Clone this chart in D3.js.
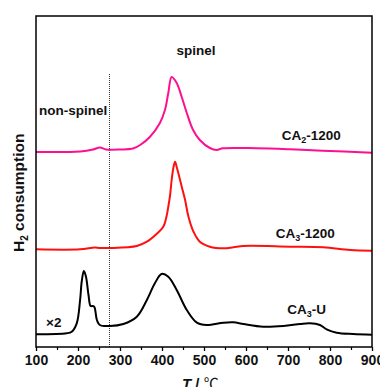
<!DOCTYPE html>
<html>
<head>
<meta charset="utf-8">
<script src="https://cdn.jsdelivr.net/npm/d3@7"></script>
<style>
  body { margin: 0; background: #fff; }
  text { font-family: "Liberation Sans", Arial, sans-serif; font-weight: bold; fill: #111; }
</style>
</head>
<body>
<svg id="chart" width="380" height="387"></svg>
<script>
// temperature (C) and H2 signal (a.u.)
var ca2T = [100, 205, 236, 252, 267, 300, 331, 348, 371, 395, 407, 415, 423, 435, 447, 459, 474, 490, 514, 530, 545, 625, 705, 783, 900]
var ca2V = [195, 195.5, 197.5, 199.5, 197.5, 197.5, 198.5, 202, 210, 224, 237, 254, 270, 264, 250, 234, 217, 207, 199, 197, 198.7, 198.7, 197.7, 196.3, 194.3]

var ca3T = [100, 205, 240, 252, 276, 340, 364, 387, 403, 411, 415, 419, 423, 427, 431, 435, 439, 447, 455, 463, 475, 490, 514, 546, 570, 594, 705, 784, 848, 900]
var ca3V = [97.7, 97.7, 99.5, 99, 99, 101, 105.3, 113, 120.3, 131, 140.3, 151, 167, 179, 185.3, 180, 173.7, 160.3, 147, 130.3, 115.3, 105.3, 100.3, 98.7, 99.7, 101, 100.3, 99.7, 97, 96.3]

var ca3uT = [100, 173, 185, 197, 205, 209, 214, 219, 225, 230, 235, 239, 245, 252, 276, 308, 340, 364, 383, 399, 415, 435, 459, 483, 506, 546, 570, 594, 641, 689, 729, 752, 776, 792, 816, 855, 900]
var ca3uV = [12.7, 13.7, 15.3, 23.7, 47, 66, 76, 70.3, 52, 41, 41, 40, 27, 22, 21, 23, 30.3, 47, 63.7, 73, 70.3, 57, 37, 24.3, 22, 24.3, 24.7, 23, 20.3, 21, 23, 23.7, 22, 17.7, 14.3, 13, 12.3]

var xTicks = [100, 200, 300, 400, 500, 600, 700, 800, 900]
var dividerT = 275

var svg = d3.select('#chart')
var plotL = 36, plotR = 372, plotT = 16, plotB = 347

var x = d3.scaleLinear().domain([100, 900]).range([plotL, plotR])
var y = d3.scaleLinear().domain([0, 331]).range([plotB, plotT])

// dotted split between non-spinel and spinel
svg.append('line')
  .attr('x1', x(dividerT)).attr('x2', x(dividerT))
  .attr('y1', y(0)).attr('y2', y(274))
  .attr('stroke', '#333').attr('stroke-width', 1)
  .attr('stroke-dasharray', '1,1')

var line = d3.line()
  .x(function (d) { return x(d[0]) })
  .y(function (d) { return y(d[1]) })
  .curve(d3.curveCatmullRom.alpha(0.5))

function addCurve(ts, vs, color) {
  svg.append('path')
    .datum(d3.zip(ts, vs))
    .attr('d', line)
    .attr('fill', 'none')
    .attr('stroke', color)
    .attr('stroke-width', 2)
}
addCurve(ca2T, ca2V, '#ff0f8f')
addCurve(ca3T, ca3V, '#ff1010')
addCurve(ca3uT, ca3uV, '#000')

// frame
svg.append('rect')
  .attr('x', plotL).attr('y', plotT)
  .attr('width', plotR - plotL).attr('height', plotB - plotT)
  .attr('fill', 'none').attr('stroke', '#000').attr('stroke-width', 1.5)

// x axis
var xAxis = d3.axisBottom(x).tickValues(xTicks).tickSize(4).tickPadding(4).tickFormat(d3.format('d'))
var gx = svg.append('g').attr('transform', 'translate(0,' + plotB + ')').call(xAxis)
gx.select('.domain').remove()
gx.selectAll('line').attr('stroke', '#000').attr('stroke-width', 1.3)
gx.selectAll('text').attr('font-size', '14px').attr('font-family', '"Liberation Sans", Arial, sans-serif').attr('font-weight', 'bold').attr('fill', '#111')

var minor = d3.axisBottom(x).tickValues(d3.range(150, 900, 100)).tickSize(3).tickFormat('')
var gm = svg.append('g').attr('transform', 'translate(0,' + plotB + ')').call(minor)
gm.select('.domain').remove()
gm.selectAll('line').attr('stroke', '#000').attr('stroke-width', 1.2)

// axis titles
var xt = svg.append('text').attr('x', 182).attr('y', 389).attr('font-size', '15px')
xt.append('tspan').attr('font-style', 'italic').text('T')
xt.append('tspan').text(' / ')
xt.append('tspan').attr('font-family', '"Noto Sans CJK SC", serif').attr('font-weight', 'normal').text('℃')

var yt = svg.append('text')
  .attr('transform', 'translate(24,252) rotate(-90)')
  .attr('font-size', '15.5px')
yt.append('tspan').text('H')
yt.append('tspan').attr('font-size', '10px').attr('dy', 4).text('2')
yt.append('tspan').attr('dy', -4).text(' consumption')

// annotations
function label(t, v, main, sub, rest, anchor) {
  var tx = svg.append('text').attr('x', x(t)).attr('y', y(v))
    .attr('font-size', '13.5px').attr('text-anchor', anchor || 'start')
  tx.append('tspan').text(main)
  if (sub) {
    tx.append('tspan').attr('font-size', '9px').attr('dy', 3).text(sub)
    tx.append('tspan').attr('dy', -3).text(rest)
  }
}
label(481, 292, 'spinel', null, null, 'middle')
label(107, 232, 'non-spinel')
label(685, 207, 'CA', '2', '-1200')
label(671, 108.7, 'CA', '3', '-1200')
label(698, 33, 'CA', '3', '-U')
label(124, 19.7, '×2')
</script>
</body>
</html>
